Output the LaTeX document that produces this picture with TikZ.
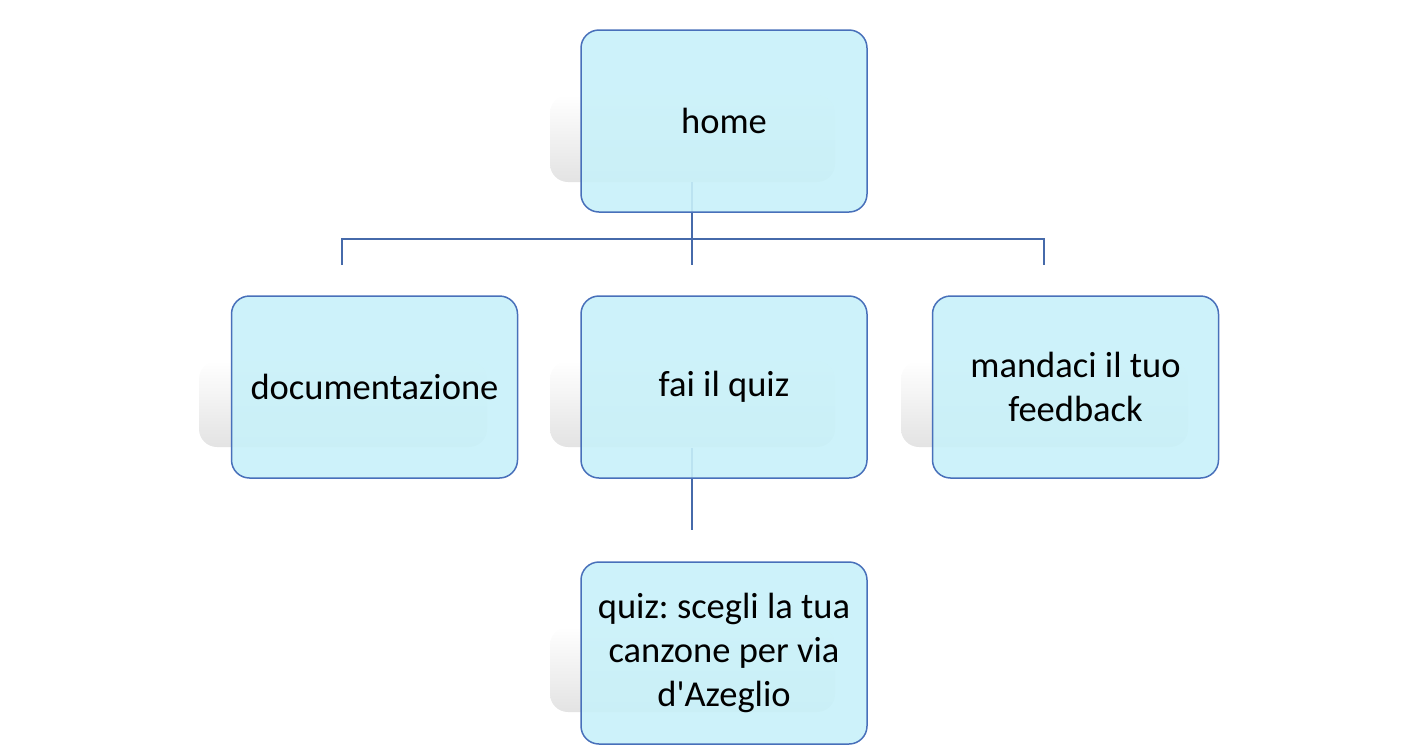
\documentclass[tikz,border=0pt]{standalone}
\usepackage{fontspec}
\setmainfont{Carlito}[Ligatures=TeXOff]
\frenchspacing
\definecolor{boxfill}{RGB}{200,241,249}
\definecolor{boxline}{RGB}{72,112,186}
\definecolor{conn}{RGB}{70,106,170}
\begin{document}
\begin{tikzpicture}[x=1pt,y=-1pt,
  topic/.style={draw=boxline,line width=1.5pt,fill=boxfill,fill opacity=0.9,text opacity=1,
    rounded corners=18pt,minimum width=286pt,minimum height=182pt,inner sep=0pt,
    align=center,font=\fontsize{36.5}{44}\selectfont},
  shade box/.style={rounded corners=18pt,top color=white,bottom color=black!11,draw=none},
  link/.style={draw=conn,line width=1.6pt}]
\useasboundingbox (0,0) rectangle (1418,745);
% shadows
\shade[shade box] (550,95) rectangle (835,182);
\shade[shade box] (199,361) rectangle (487,447);
\shade[shade box] (550,361) rectangle (835,447);
\shade[shade box] (901,361) rectangle (1188,447);
\shade[shade box] (550,627) rectangle (835,712);
% connector points
\coordinate (hs) at (692,182);
\coordinate (bus) at (692,239);
\coordinate (bl) at (342,239);
\coordinate (br) at (1044,239);
\coordinate (dl) at (342,265);
\coordinate (dm) at (692,265);
\coordinate (dr) at (1044,265);
\coordinate (qs) at (692,448);
\coordinate (qe) at (692,530);
\draw[link] (hs) -- (bus) -- (dm);
\draw[link] (dl) -- (bl) -- (br) -- (dr);
\draw[link] (qs) -- (qe);
% boxes
\node[topic] (home) at (724,121) {home};
\node[topic] (doc) at (374.5,387) {documentazione};
\node[topic] (quiz) at (724,387) {fai il quiz};
\node[topic] (feed) at (1075.5,387) {mandaci il tuo\\feedback};
\node[topic] (song) at (724,653) {quiz: scegli la tua\\canzone per via\\d'Azeglio};
\end{tikzpicture}
\end{document}
